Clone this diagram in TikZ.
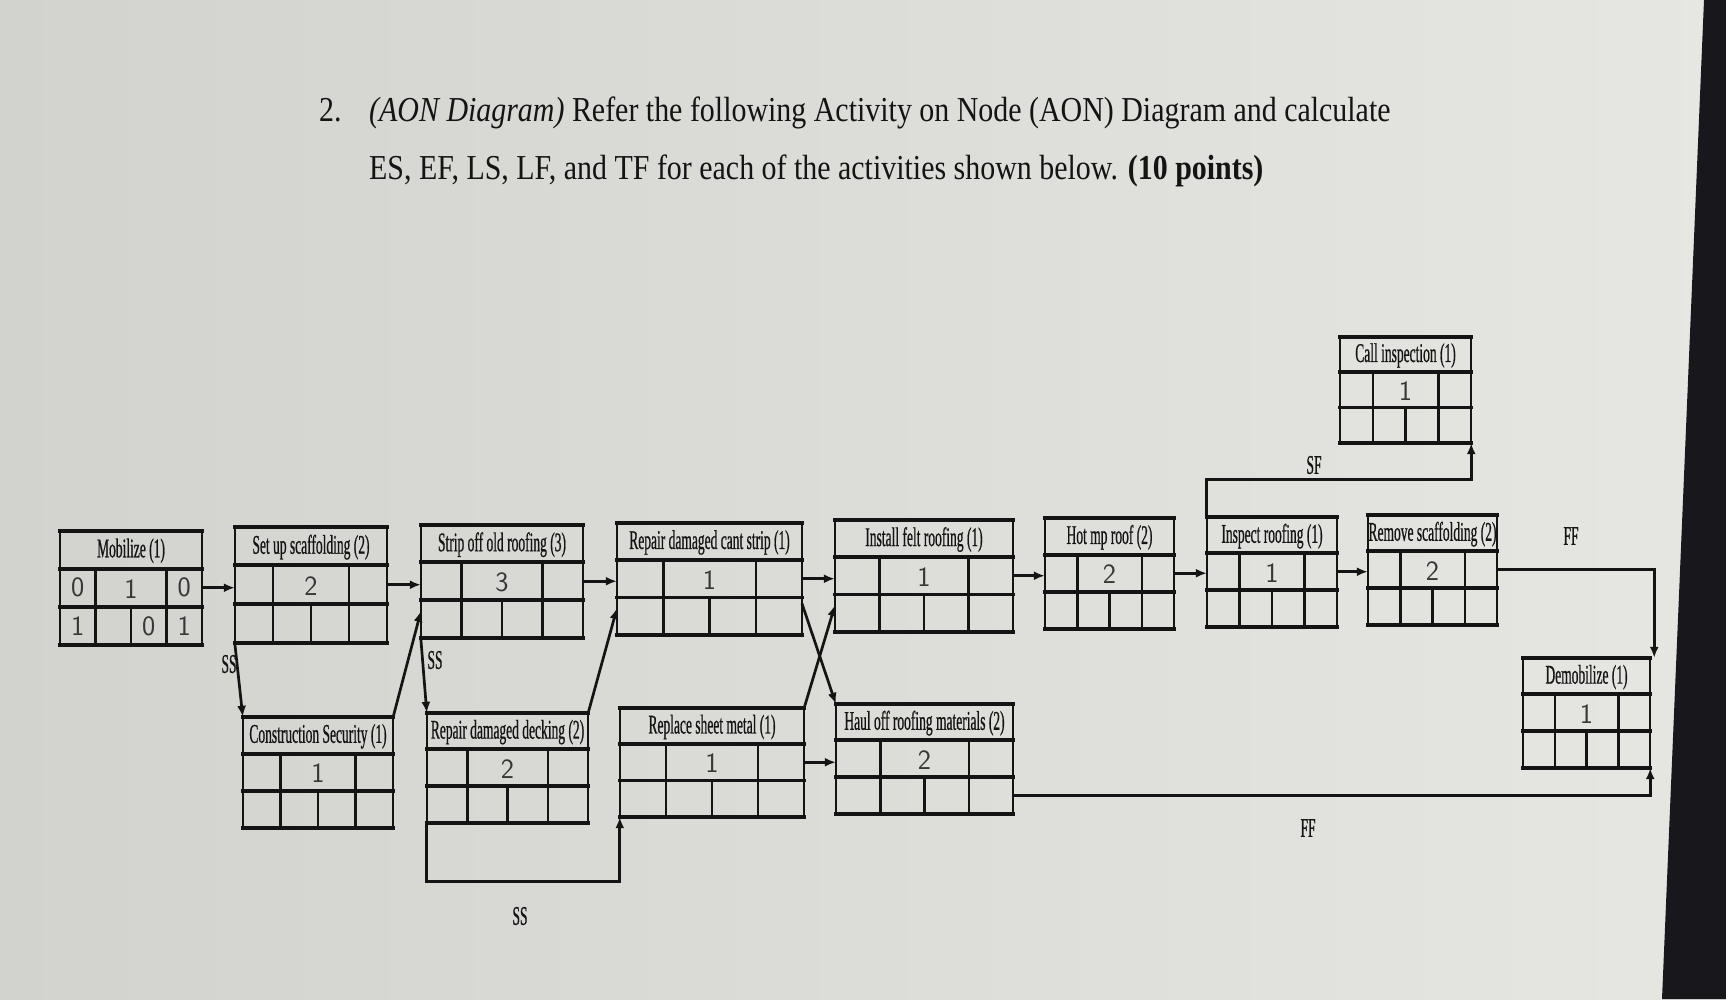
\documentclass[tikz,border=0pt]{standalone}
\usepackage{fontspec}
\setmainfont{Liberation Serif}
\newfontfamily\headfont[FakeStretch=0.855]{Liberation Serif}
\newfontfamily\boxfont[FakeStretch=0.5,FakeBold=0.6]{Liberation Serif}
\usetikzlibrary{arrows.meta,fit}
\definecolor{bgl}{RGB}{210,210,207}
\definecolor{bgr}{RGB}{230,230,227}
\definecolor{bezel}{RGB}{24,24,28}
\definecolor{ink}{RGB}{20,20,20}
\tikzset{
  hrule/.style={draw=ink,line width=3.8pt,line cap=rect},
  vrule/.style={draw=ink,line width=2.5pt},
  actnode/.style={draw=none,inner sep=0pt},
  boxtitle/.style={font=\boxfont\fontsize{27}{27}\selectfont,text=ink,inner sep=0pt},
  hand/.style={font=\sffamily\fontsize{28}{28}\selectfont,text=ink!85,inner sep=0pt},
  lab/.style={font=\boxfont\fontsize{27}{27}\selectfont,text=ink,inner sep=0pt},
  arr/.style={draw=ink,line width=2.7pt,-{Latex[length=11pt,width=9pt]}},
  head/.style={font=\headfont\fontsize{35}{35}\selectfont,text=ink,inner sep=0pt,anchor=base west}
}
% #1 name, #2 left, #3 top, #4 right, #5 bottom, #6 title, #7 duration
\newcommand\actbox[7]{%
  \pgfmathsetmacro\hA{#3+0.33*(#5-#3)}%
  \pgfmathsetmacro\hB{#3+0.665*(#5-#3)}%
  \pgfmathsetmacro\vA{#2+0.25*(#4-#2)}%
  \pgfmathsetmacro\vB{#2+0.5*(#4-#2)}%
  \pgfmathsetmacro\vC{#2+0.75*(#4-#2)}%
  \pgfmathsetmacro\rA{(\hA+\hB)/2}%
  \pgfmathsetmacro\rB{(\hB+#5)/2}%
  \pgfmathsetmacro\lT{#3+0.76*(#5-#3)}%
  \pgfmathsetmacro\rT{#3+0.72*(#5-#3)}%
  \node[actnode,fit={(#2,#3) (#4,#5)}] (#1) {};
  \draw[vrule] (#2,#3) -- (#2,#5) (#4,#3) -- (#4,#5)
     (\vA,\hA) -- (\vA,#5) (\vC,\hA) -- (\vC,#5) (\vB,\hB) -- (\vB,#5);
  \draw[hrule] (#2,#3) -- (#4,#3) (#2,\hA) -- (#4,\hA)
     (#2,\hB) -- (#4,\hB) (#2,#5) -- (#4,#5);
  \node[boxtitle] (#1-title) at ({(#2+#4)/2},{(#3+\hA)/2+1}) {#6};
  \node[hand] (#1-dur) at (\vB,\rA+1) {#7};
  \coordinate (#1-r) at (#4,\rA);
  \coordinate (#1-l) at (#2,\rA);
  \coordinate (#1-l2) at (#2,\lT);
  \coordinate (#1-r2) at (#4,\rT);
  \coordinate (#1-r3) at (#4,\rB);
  \coordinate (#1-c1) at ({(#2+\vA)/2},\rA);
  \coordinate (#1-c3) at ({(\vC+#4)/2},\rA);
  \coordinate (#1-b1) at ({(#2+\vA)/2},\rB);
  \coordinate (#1-b2) at ({(\vA+\vB)/2},\rB);
  \coordinate (#1-b3) at ({(\vB+\vC)/2},\rB);
  \coordinate (#1-b4) at ({(\vC+#4)/2},\rB);
}
\begin{document}
\begin{tikzpicture}[x=1pt,y=-1pt]
\useasboundingbox (0,0) rectangle (1726,999);
\shade[left color=bgl,right color=bgr] (0,0) rectangle (1726,999);
\fill[bezel] (1704,0) -- (1726,0) -- (1726,999) -- (1662,999) -- cycle;

% heading
\node[head] (qnum) at (319,121) {2.};
\node[head] (q1) at (369,121) {\textit{(AON Diagram)} Refer the following Activity on Node (AON) Diagram and calculate};
\node[head] (q2) at (369,179) {ES, EF, LS, LF, and TF for each of the activities shown below. \textbf{(10 points)}};

% activity boxes
\actbox{mob}{60}{531}{202}{645}{Mobilize (1)}{1}
\actbox{setup}{235}{527}{387}{643}{Set up scaffolding (2)}{2}
\actbox{strip}{421}{525}{583}{638}{Strip off old roofing (3)}{3}
\actbox{cant}{617}{523}{802}{635}{Repair damaged cant strip (1)}{1}
\actbox{felt}{835}{520}{1013}{632}{Install felt roofing (1)}{1}
\actbox{hot}{1045}{518}{1174}{629}{Hot mp roof (2)}{2}
\actbox{insp}{1207}{517}{1337}{627}{Inspect roofing (1)}{1}
\actbox{remove}{1368}{515}{1497}{625}{Remove scaffolding (2)}{2}
\actbox{call}{1340}{337}{1471}{443}{Call inspection (1)}{1}
\actbox{demob}{1523}{658}{1650}{768}{Demobilize (1)}{1}
\actbox{sec}{243}{717}{393}{828}{Construction Security (1)}{1}
\actbox{deck}{427}{713}{588}{823}{Repair damaged decking (2)}{2}
\actbox{sheet}{620}{708}{804}{817}{Replace sheet metal (1)}{1}
\actbox{haul}{836}{704}{1013}{814}{Haul off roofing materials (2)}{2}

% Mobilize handwritten values
\node[hand] (mob-es) at (mob-c1) {0};
\node[hand] (mob-ef) at (mob-c3) {0};
\node[hand] (mob-ls) at (mob-b1) {1};
\node[hand] (mob-tf) at (mob-b3) {0};
\node[hand] (mob-lf) at (mob-b4) {1};

% finish-to-start links
\draw[arr] (mob-r) -- (mob-r -| setup.west);
\draw[arr] (setup-r) -- (setup-r -| strip.west);
\draw[arr] (strip-r) -- (strip-r -| cant.west);
\draw[arr] (cant-r) -- (cant-r -| felt.west);
\draw[arr] (felt-r) -- (felt-r -| hot.west);
\draw[arr] (hot-r) -- (hot-r -| insp.west);
\draw[arr] (insp-r) -- (insp-r -| remove.west);
\draw[arr] (sheet-r) -- (sheet-r -| haul.west);
\draw[arr] (sec.north east) -- (strip-l2);
\draw[arr] (deck.north east) -- (cant-l2);
\draw[arr] (cant-r2) -- (haul.north west);
\draw[arr] (sheet.north east) -- (felt-l2);

% SS links
\draw[arr] (setup.south west) -- (sec.north west);
\draw[arr] (strip.south west) -- (deck.north west);
\draw[arr] (deck.south west) -- ++(0,58) -| (sheet.south west);
% SF link
\draw[arr] (insp.north west) -- ++(0,-37) -| (call.south east);
% FF links
\draw[arr] (remove-r) -| ([xshift=4pt]demob.north east);
\draw[arr] (haul-r3) -| (demob.south east);

% relationship labels
\node[lab] (ss1) at (229,664) {SS};
\node[lab] (ss2) at (435,660) {SS};
\node[lab] (ss3) at (520,916) {SS};
\node[lab] (sf) at (1314,465) {SF};
\node[lab] (ff1) at (1571,536) {FF};
\node[lab] (ff2) at (1308,828) {FF};
\end{tikzpicture}
\end{document}
